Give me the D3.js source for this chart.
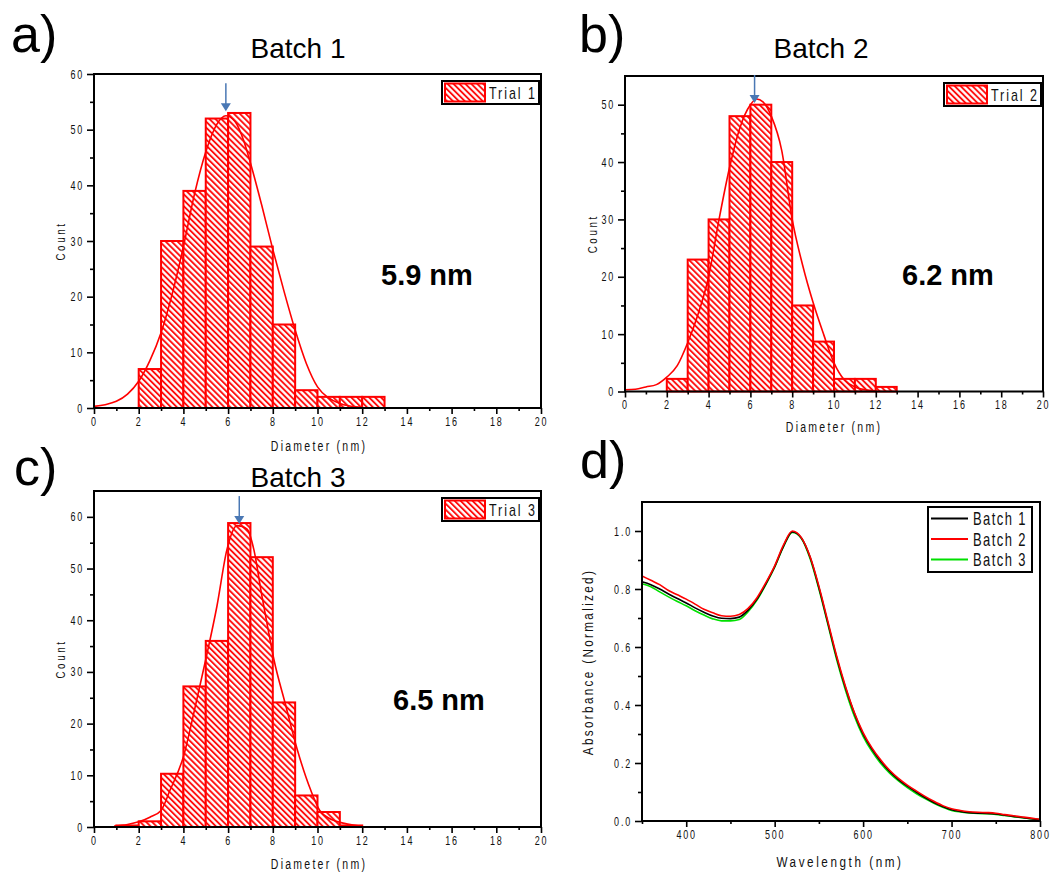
<!DOCTYPE html>
<html><head><meta charset="utf-8">
<script src="https://cdn.jsdelivr.net/npm/d3@7"></script>
<style>
body{margin:0;background:#fff;}
svg{display:block;}
</style></head><body>
<svg id="fig" width="1051" height="876"></svg>
<script>
// ---- size distributions (bin left edge in nm, counts) ----
const binStarts1 = [2, 3, 4, 5, 6, 7, 8, 9, 10, 11, 12];
const counts1    = [7, 30, 39, 52, 53, 29, 15, 3.2, 2, 2, 2];
const fitX1 = [0, 0.5, 1, 1.5, 2, 2.5, 3, 3.5, 4, 4.5, 5, 5.5, 5.9, 6.3, 6.7, 7, 7.5, 8, 8.5, 9, 9.5, 10, 10.5, 11, 11.5, 12];
const fitY1 = [0.3, 0.6, 1.2, 2.5, 4.8, 8.5, 13.5, 20.5, 29, 38.5, 46, 51, 52.5, 51.5, 48, 44, 36.5, 28.5, 21, 14, 8, 3.8, 1.8, 0.8, 0.3, 0.1];

const binStarts2 = [2, 3, 4, 5, 6, 7, 8, 9, 10, 11, 12];
const counts2    = [2.2, 23, 30, 48, 50, 40, 15, 8.7, 2.2, 2.2, 0.8];
const fitX2 = [0, 0.5, 1, 1.5, 2, 2.5, 3, 3.5, 4, 4.5, 5, 5.5, 6, 6.3, 6.6, 7, 7.5, 8, 8.5, 9, 9.5, 10, 10.5, 11, 11.5, 12];
const fitY2 = [0.3, 0.4, 0.8, 1.2, 2.5, 4.5, 8.5, 13.5, 20, 30, 39, 46, 50, 51, 50.5, 48, 42, 30, 22, 15.5, 10, 5, 2, 0.8, 0.3, 0.1];

const binStarts3 = [1, 2, 3, 4, 5, 6, 7, 8, 9, 10, 11];
const counts3    = [0.3, 1.1, 10.3, 27.2, 36, 58.8, 52.2, 24.1, 6.1, 2.9, 0.3];
const fitX3 = [0.9, 1.5, 2, 2.5, 3, 3.4, 4, 4.5, 5, 5.5, 5.95, 6.4, 6.85, 7.15, 7.5, 7.8, 8.05, 8.55, 9.1, 9.7, 10.1, 10.6, 11.2, 12];
const fitY3 = [0.2, 0.5, 1.0, 1.9, 3.2, 7.1, 13.6, 22.7, 32.4, 42.7, 53.7, 58.3, 57.6, 53.7, 45, 38, 32.4, 24, 14.9, 7.1, 3.2, 1.5, 0.7, 0.1];

// mean diameters (nm) marked by the arrows and printed beside each histogram
const meanSizes = [5.9, 6.2, 6.5];
const sampleNames = ["Batch 1", "Batch 2", "Batch 3"];
const trialNames = ["Trial 1", "Trial 2", "Trial 3"];
const panelTags = ["a)", "b)", "c)", "d)"];

// ---- axis ticks ----
const diameterTicks = [0, 2, 4, 6, 8, 10, 12, 14, 16, 18, 20];
const countTicks1 = [0, 10, 20, 30, 40, 50, 60];
const countTicks2 = [0, 10, 20, 30, 40, 50];
const countTicks3 = [0, 10, 20, 30, 40, 50, 60];
const wavelengthTicks = [400, 500, 600, 700, 800];
const absorbanceTicks = [0, 0.2, 0.4, 0.6, 0.8, 1.0];

// ---- UV-Vis spectra (normalized absorbance) ----
const wavelengths = [350, 360, 370, 380, 390, 400, 410, 420, 430, 440, 450, 460, 470, 480, 490, 500, 510, 520, 530, 540, 550, 560, 570, 580, 590, 600, 610, 620, 630, 640, 650, 660, 670, 680, 690, 700, 710, 720, 730, 740, 750, 760, 770, 780, 790, 800];
const absBatch1 = [0.825, 0.815, 0.800, 0.783, 0.767, 0.752, 0.735, 0.720, 0.707, 0.699, 0.698, 0.703, 0.727, 0.765, 0.818, 0.877, 0.948, 0.997, 0.977, 0.910, 0.805, 0.685, 0.565, 0.460, 0.372, 0.300, 0.248, 0.205, 0.171, 0.143, 0.120, 0.100, 0.081, 0.064, 0.050, 0.039, 0.033, 0.029, 0.027, 0.026, 0.024, 0.020, 0.016, 0.012, 0.008, 0.004];
const absBatch2 = [0.845, 0.830, 0.815, 0.795, 0.780, 0.765, 0.748, 0.730, 0.718, 0.708, 0.706, 0.712, 0.733, 0.770, 0.822, 0.880, 0.952, 1.000, 0.978, 0.912, 0.810, 0.690, 0.570, 0.465, 0.375, 0.305, 0.252, 0.210, 0.175, 0.147, 0.124, 0.104, 0.085, 0.068, 0.053, 0.042, 0.036, 0.032, 0.030, 0.029, 0.027, 0.022, 0.018, 0.014, 0.010, 0.006];
const absBatch3 = [0.818, 0.808, 0.790, 0.773, 0.757, 0.742, 0.725, 0.710, 0.697, 0.690, 0.690, 0.695, 0.722, 0.762, 0.815, 0.875, 0.946, 0.995, 0.975, 0.905, 0.800, 0.680, 0.558, 0.452, 0.362, 0.292, 0.240, 0.198, 0.165, 0.138, 0.115, 0.095, 0.077, 0.061, 0.047, 0.036, 0.031, 0.028, 0.026, 0.025, 0.023, 0.019, 0.015, 0.011, 0.008, 0.005];
const spectraColors = ["#000000", "#ff0000", "#00e000"];

// ---- drawing ----
const RED = "#ff0000";
const SANS = "'Liberation Sans',Arial,sans-serif";
const TICK_SX = 0.72;   // horizontal squeeze for the condensed axis lettering
const svg = d3.select("#fig");

const defs = svg.append("defs");
const pat = defs.append("pattern")
  .attr("id", "hatch").attr("patternUnits", "userSpaceOnUse")
  .attr("width", 4.2).attr("height", 8)
  .attr("patternTransform", "rotate(-45)");
pat.append("rect").attr("width", 4.2).attr("height", 8).attr("fill", "#fff");
pat.append("line").attr("x1", 1).attr("y1", 0).attr("x2", 1).attr("y2", 8)
  .attr("stroke", RED).attr("stroke-width", 1.8);

function styleAxis(g) {
  g.select(".domain").remove();
  g.selectAll(".tick line").attr("stroke", "#000").attr("stroke-width", 1.6);
  g.selectAll(".tick text").attr("fill", "#111")
    .style("font-family", SANS).style("font-size", "12.5px").style("letter-spacing", "2.5px")
    .each(function () {
      const t = d3.select(this);
      const x0 = +(t.attr("x") || 0);
      t.attr("x", x0 / TICK_SX).attr("transform", `scale(${TICK_SX},1)`);
    });
}

function frame(g, L, R, T, B) {
  g.append("rect").attr("x", L).attr("y", T).attr("width", R - L).attr("height", B - T)
    .attr("fill", "none").attr("stroke", "#000").attr("stroke-width", 2);
}

function axes(g, x, y, L, B, xt, xMinor, yt, yMinor, yFmt) {
  g.append("g").attr("transform", `translate(0,${B})`)
    .call(d3.axisBottom(x).tickValues(xMinor).tickSize(3).tickSizeOuter(0).tickFormat(""))
    .call(styleAxis);
  g.append("g").attr("transform", `translate(0,${B})`)
    .call(d3.axisBottom(x).tickValues(xt).tickSize(6).tickPadding(3).tickSizeOuter(0))
    .call(styleAxis);
  g.append("g").attr("transform", `translate(${L},0)`)
    .call(d3.axisLeft(y).tickValues(yMinor).tickSize(4).tickSizeOuter(0).tickFormat(""))
    .call(styleAxis);
  g.append("g").attr("transform", `translate(${L},0)`)
    .call(d3.axisLeft(y).tickValues(yt).tickSize(7).tickPadding(3).tickSizeOuter(0).tickFormat(yFmt || d3.format("d")))
    .call(styleAxis);
}

// plain text
function label(g, txt, x, y, opts) {
  return g.append("text").attr("x", x).attr("y", y).text(txt)
    .attr("text-anchor", opts.anchor || "middle")
    .style("font-family", SANS)
    .style("font-size", opts.size + "px")
    .style("font-weight", opts.weight || "normal")
    .attr("fill", opts.fill || "#000");
}

// condensed, letter-spaced text (axis titles, legend entries)
function narrow(g, txt, x, y, opts) {
  const sx = opts.sx || 0.75;
  const tr = `translate(${x},${y})` + (opts.rotate ? " rotate(-90)" : "") + ` scale(${sx},1)`;
  return g.append("text").attr("transform", tr).text(txt)
    .attr("text-anchor", opts.anchor || "middle")
    .style("font-family", SANS)
    .style("font-size", opts.size + "px")
    .style("letter-spacing", (opts.ls || 0) + "px")
    .attr("fill", "#111");
}

function histogram(cfg) {
  const { L, R, T, B, yMax, starts, counts, fx, fy, yt, mean, title, trial, tag, tagPos, titlePos, valuePos, xLabelPos, countX } = cfg;
  const g = svg.append("g");
  const x = d3.scaleLinear().domain([0, 20]).range([L, R]);
  const y = d3.scaleLinear().domain([0, yMax]).range([B, T]);

  // bars
  g.selectAll("rect.bar").data(starts).join("rect").attr("class", "bar")
    .attr("x", d => x(d)).attr("width", d => x(d + 1) - x(d))
    .attr("y", (d, i) => y(counts[i])).attr("height", (d, i) => y(0) - y(counts[i]))
    .attr("fill", "url(#hatch)").attr("stroke", RED).attr("stroke-width", 2);

  // fitted distribution
  const line = d3.line().x(d => x(d[0])).y(d => y(d[1])).curve(d3.curveMonotoneX);
  g.append("path").datum(fx.map((v, i) => [v, fy[i]])).attr("d", line)
    .attr("fill", "none").attr("stroke", RED).attr("stroke-width", 1.6);

  // frame and axes
  frame(g, L, R, T, B);
  const minorX = d3.range(1, 20, 2);
  const minorY = yt.slice(0, -1).map(v => v + 5).filter(v => v < yMax);
  axes(g, x, y, L, B, diameterTicks, minorX, yt, minorY);

  // arrow at the mean diameter
  const ax = x(mean);
  const tip = y(cfg.arrowTip);
  g.append("line").attr("x1", ax).attr("x2", ax).attr("y1", tip - 28).attr("y2", tip - 6)
    .attr("stroke", "#4a78b4").attr("stroke-width", 1.5);
  g.append("path").attr("d", `M${ax - 5},${tip - 8} L${ax + 5},${tip - 8} L${ax},${tip} Z`)
    .attr("fill", "#4a78b4");

  // legend
  const lg = g.append("g");
  lg.append("rect").attr("x", R - 99).attr("y", T + 7).attr("width", 97).attr("height", 23)
    .attr("fill", "#fff").attr("stroke", "#000").attr("stroke-width", 2);
  lg.append("rect").attr("x", R - 96).attr("y", T + 9.5).attr("width", 40).attr("height", 18)
    .attr("fill", "url(#hatch)").attr("stroke", RED).attr("stroke-width", 2);
  narrow(lg, trial, R - 52, T + 24.5, { anchor: "start", size: 16, ls: 2.5, sx: 0.78 });

  // texts
  label(g, tag, tagPos[0], tagPos[1], { anchor: "start", size: 52 });
  label(g, title, titlePos[0], titlePos[1], { size: 28 });
  label(g, mean.toFixed(1) + " nm", valuePos[0], valuePos[1], { anchor: "start", size: 29, weight: "bold" });
  narrow(g, "Diameter (nm)", xLabelPos[0], xLabelPos[1], { size: 14, ls: 3 });
  narrow(g, "Count", countX, (T + B) / 2, { size: 13, ls: 3.5, rotate: true });
}

histogram({ L: 94, R: 541, T: 74, B: 408, yMax: 60, starts: binStarts1, counts: counts1,
  fx: fitX1, fy: fitY1, yt: countTicks1, mean: meanSizes[0], arrowTip: 53.3,
  title: sampleNames[0], trial: trialNames[0], tag: panelTags[0], tagPos: [11, 52], titlePos: [298, 58],
  valuePos: [381, 285], xLabelPos: [319, 451], countX: 65 });

histogram({ L: 625, R: 1043, T: 76, B: 391.5, yMax: 55, starts: binStarts2, counts: counts2,
  fx: fitX2, fy: fitY2, yt: countTicks2, mean: meanSizes[1], arrowTip: 50.3,
  title: sampleNames[1], trial: trialNames[1], tag: panelTags[1], tagPos: [579, 52], titlePos: [821, 58],
  valuePos: [902, 285], xLabelPos: [834, 432], countX: 597 });

histogram({ L: 94, R: 541, T: 491, B: 827, yMax: 65, starts: binStarts3, counts: counts3,
  fx: fitX3, fy: fitY3, yt: countTicks3, mean: meanSizes[2], arrowTip: 58.6,
  title: sampleNames[2], trial: trialNames[2], tag: panelTags[2], tagPos: [14, 485], titlePos: [298, 487],
  valuePos: [393, 710], xLabelPos: [319, 869], countX: 65 });

// ---- panel d: absorbance spectra ----
(function () {
  const L = 642, R = 1040, T = 502, B = 821;
  const g = svg.append("g");
  const x = d3.scaleLinear().domain([350, 800]).range([L, R]);
  const y = d3.scaleLinear().domain([0, 1.1]).range([B, T]);
  const series = [absBatch1, absBatch2, absBatch3];
  const line = d3.line().x(d => x(d[0])).y(d => y(d[1])).curve(d3.curveMonotoneX);
  // green first, then black, then red on top
  [2, 0, 1].forEach(k => {
    g.append("path").datum(wavelengths.map((w, i) => [w, series[k][i]])).attr("d", line)
      .attr("fill", "none").attr("stroke", spectraColors[k]).attr("stroke-width", 1.6);
  });
  frame(g, L, R, T, B);
  axes(g, x, y, L, B, wavelengthTicks, [350, 450, 550, 650, 750],
       absorbanceTicks, [0.1, 0.3, 0.5, 0.7, 0.9], d3.format(".1f"));

  // legend
  const lg = g.append("g");
  lg.append("rect").attr("x", 928).attr("y", 507).attr("width", 104).attr("height", 65)
    .attr("fill", "#fff").attr("stroke", "#000").attr("stroke-width", 2);
  sampleNames.forEach((n, i) => {
    const yy = 518.5 + i * 20.5;
    lg.append("line").attr("x1", 931).attr("x2", 968).attr("y1", yy).attr("y2", yy)
      .attr("stroke", spectraColors[i]).attr("stroke-width", 2);
    narrow(lg, n, 973, yy + 6.5, { anchor: "start", size: 18, ls: 2, sx: 0.72 });
  });

  label(g, panelTags[3], 580, 478, { anchor: "start", size: 52 });
  narrow(g, "Wavelength (nm)", 840, 867, { size: 15, ls: 3.3, sx: 0.78 });
  narrow(g, "Absorbance (Normalized)", 593, 662, { size: 15, ls: 3, sx: 0.78, rotate: true });
})();
</script>
</body></html>
